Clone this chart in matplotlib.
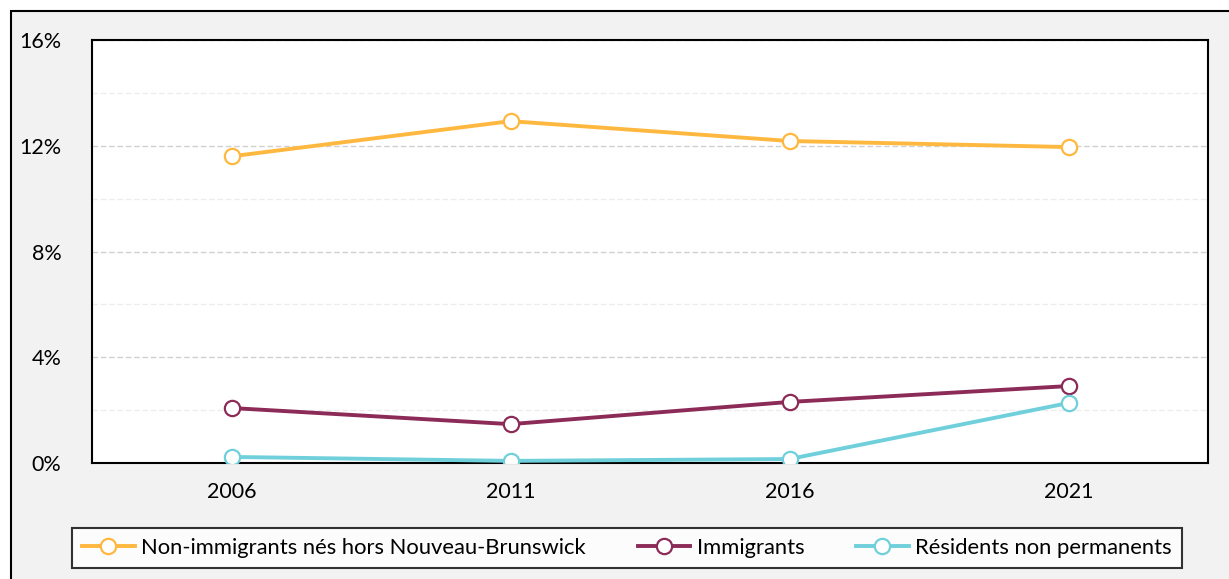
import matplotlib
matplotlib.use("Agg")
import matplotlib.pyplot as plt
from matplotlib.patches import Rectangle
from matplotlib.ticker import MultipleLocator, FuncFormatter

years = ["2006", "2011", "2016", "2021"]
non_immigrants = [11.6, 12.93, 12.18, 11.95]
immigrants = [2.08, 1.47, 2.31, 2.91]
non_permanent = [0.23, 0.08, 0.15, 2.27]
labels = ["Non-immigrants nés hors Nouveau-Brunswick", "Immigrants", "Résidents non permanents"]
colors = ["#FFB83F", "#8C2B58", "#6FD0DC"]

plt.rcParams['font.family'] = ['Lato', 'DejaVu Sans']

W, H = 1229, 579
fig = plt.figure(figsize=(W / 100, H / 100), dpi=100)
fig.patch.set_facecolor("white")
# gray background with black frame
bg = Rectangle((11 / W, -0.05), 1.2, (H - 11) / H + 0.05, transform=fig.transFigure,
               facecolor="#F2F2F2", edgecolor="black", linewidth=1.5, zorder=-10)
fig.patches.append(bg)

ax = fig.add_axes([92 / W, 1 - 463 / H, (1208 - 92) / W, (463 - 40) / H])
ax.set_zorder(1)
ax.set_facecolor("white")
x = list(range(len(years)))
for vals, lab, col in zip([non_immigrants, immigrants, non_permanent], labels, colors):
    ax.plot(x, vals, color=col, linewidth=2.8, marker="o", markersize=11,
            markerfacecolor="white", markeredgecolor=col, markeredgewidth=1.6, label=lab, zorder=3)

ax.set_xlim(-0.5, 3.5)
ax.set_ylim(0, 16)
ax.set_xticks(x)
ax.set_xticklabels(years)
ax.yaxis.set_major_locator(MultipleLocator(4))
ax.yaxis.set_minor_locator(MultipleLocator(2))
ax.yaxis.set_major_formatter(FuncFormatter(lambda v, p: f"{int(v)}%"))
ax.grid(which="major", axis="y", color="#D0D0D0", linestyle=(0, (4, 2)), linewidth=1.0)
ax.grid(which="minor", axis="y", color="#EDEDED", linestyle=(0, (4, 2)), linewidth=1.0)
ax.set_axisbelow(True)
ax.tick_params(axis="both", which="both", length=0, labelsize=15.5, colors="black")
ax.tick_params(axis="x", pad=14)
ax.tick_params(axis="y", pad=22)
for s in ax.spines.values():
    s.set_color("black")
    s.set_linewidth(1.5)

leg = fig.legend(loc="center", bbox_to_anchor=((72 + 1182) / 2 / W, 1 - 548 / H), ncol=3,
                 fontsize=15.8, frameon=True, fancybox=False, edgecolor="black",
                 handlelength=2.4, columnspacing=2.35, handletextpad=0.3, borderpad=0.45,
                 borderaxespad=0)
leg.get_frame().set_linewidth(1.5)
leg.get_frame().set_facecolor("white")

fig.savefig("out.png", dpi=100)
